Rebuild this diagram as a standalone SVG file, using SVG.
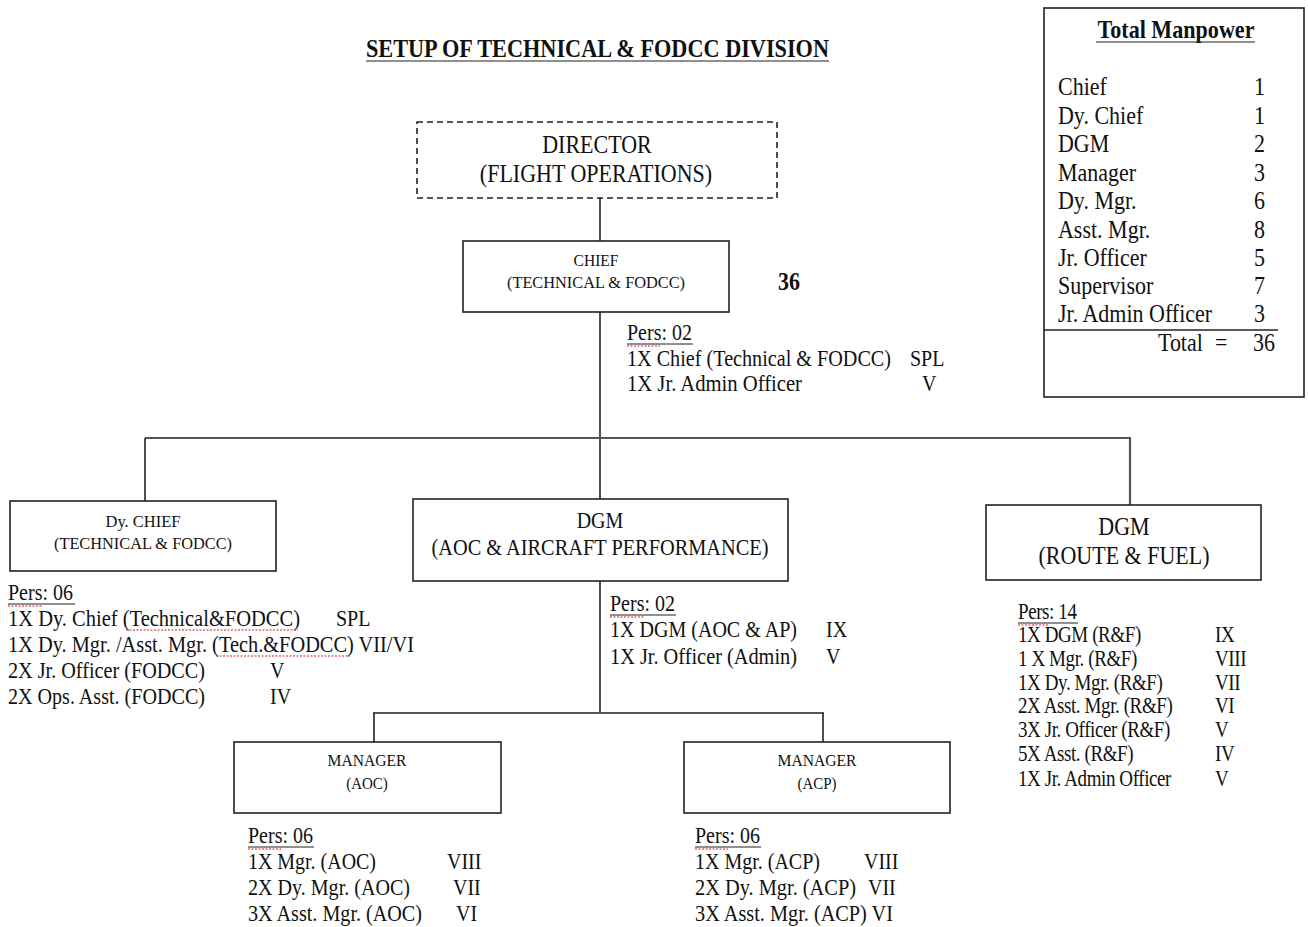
<svg xmlns="http://www.w3.org/2000/svg" width="1308" height="927" viewBox="0 0 1308 927">
<style>
text{font-family:"Liberation Serif","Times New Roman",serif;fill:#111;transform-box:fill-box;transform-origin:0 80%;transform:scaleY(1.18)}
.box{fill:#fff;stroke:#222;stroke-width:1.6}
.dash{fill:#fff;stroke:#222;stroke-width:1.6;stroke-dasharray:6 4}
.ln{stroke:#222;stroke-width:1.6;fill:none}
.gl{stroke:#555;stroke-width:2.2;fill:none}
.t{font-size:20px}
.r{font-size:19px;letter-spacing:-0.4px}
.s{font-size:15px}
.b{font-size:22px}
.c{text-anchor:middle}
.ul{stroke:#222;stroke-width:1.2}
.sq{stroke:#d02020;stroke-width:1.2;stroke-dasharray:2 1.5;fill:none}
</style>

<text x="366" y="57" font-size="22" font-weight="bold" textLength="463" lengthAdjust="spacingAndGlyphs">SETUP OF TECHNICAL &amp; FODCC DIVISION</text>
<line class="ul" x1="366" y1="61" x2="829" y2="61" stroke-width="1.6"/>

<g id="connectors">
<line class="ln" x1="600" y1="198" x2="600" y2="241"/>
<line class="ln" x1="600" y1="312" x2="600" y2="499"/>
<line class="gl" x1="145" y1="438" x2="1131" y2="438"/>
<line class="ln" x1="145" y1="438" x2="145" y2="501"/>
<line class="gl" x1="1130" y1="438" x2="1130" y2="505"/>
<line class="ln" x1="600" y1="581" x2="600" y2="713"/>
<line class="gl" x1="373" y1="713" x2="824" y2="713"/>
<line class="ln" x1="374" y1="713" x2="374" y2="742"/>
<line class="ln" x1="823" y1="713" x2="823" y2="742"/>
</g>

<g id="director">
<rect class="dash" x="417" y="122" width="360" height="76"/>
<text class="b c" x="597" y="153">DIRECTOR</text>
<text class="b c" x="596" y="182">(FLIGHT OPERATIONS)</text>
</g>

<g id="chief">
<rect class="box" x="463" y="241" width="266" height="71"/>
<text class="s c" x="596" y="266" textLength="45" lengthAdjust="spacingAndGlyphs">CHIEF</text>
<text class="s c" x="596" y="288" textLength="178" lengthAdjust="spacingAndGlyphs">(TECHNICAL  &amp; FODCC)</text>
<text x="778" y="290" font-size="22" font-weight="bold">36</text>
<text class="t" x="627" y="340">Pers: 02</text>
<line class="ul" x1="627" y1="344" x2="693" y2="344"/>
<line class="sq" x1="627" y1="346" x2="660" y2="346"/>
<text class="t" x="627" y="366" textLength="264" lengthAdjust="spacingAndGlyphs">1X Chief (Technical &amp; FODCC)</text>
<text class="t" x="910" y="366">SPL</text>
<text class="t" x="627" y="391" textLength="175" lengthAdjust="spacingAndGlyphs">1X Jr. Admin Officer</text>
<text class="t" x="922" y="391">V</text>
</g>

<g id="dychief">
<rect class="box" x="10" y="501" width="266" height="70"/>
<text class="s c" x="143" y="527" textLength="75" lengthAdjust="spacingAndGlyphs">Dy. CHIEF</text>
<text class="s c" x="143" y="549" textLength="178" lengthAdjust="spacingAndGlyphs">(TECHNICAL  &amp; FODCC)</text>
<text class="t" x="8" y="600">Pers: 06</text>
<line class="ul" x1="8" y1="604" x2="75" y2="604"/>
<line class="sq" x1="8" y1="606" x2="42" y2="606"/>
<text class="t" x="8" y="626" textLength="292" lengthAdjust="spacingAndGlyphs">1X Dy. Chief (Technical&amp;FODCC)</text>
<line class="sq" x1="126" y1="630" x2="298" y2="630"/>
<text class="t" x="336" y="626">SPL</text>
<text class="t" x="8" y="652" textLength="406" lengthAdjust="spacingAndGlyphs">1X Dy. Mgr. /Asst. Mgr. (Tech.&amp;FODCC) VII/VI</text>
<line class="sq" x1="216" y1="656" x2="350" y2="656"/>
<text class="t" x="8" y="678" textLength="197" lengthAdjust="spacingAndGlyphs">2X Jr. Officer (FODCC)</text>
<text class="t" x="270" y="678">V</text>
<text class="t" x="8" y="704" textLength="197" lengthAdjust="spacingAndGlyphs">2X Ops. Asst. (FODCC)</text>
<text class="t" x="270" y="704">IV</text>
</g>

<g id="dgm-aoc">
<rect class="box" x="413" y="499" width="375" height="82"/>
<text class="t c" x="600" y="528">DGM</text>
<text class="t c" x="600" y="555" textLength="337" lengthAdjust="spacingAndGlyphs">(AOC &amp; AIRCRAFT PERFORMANCE)</text>
<text class="t" x="610" y="611">Pers: 02</text>
<line class="ul" x1="610" y1="615" x2="676" y2="615"/>
<line class="sq" x1="610" y1="617" x2="644" y2="617"/>
<text class="t" x="610" y="637" textLength="187" lengthAdjust="spacingAndGlyphs">1X DGM (AOC &amp; AP)</text>
<text class="t" x="826" y="637">IX</text>
<text class="t" x="610" y="664" textLength="187" lengthAdjust="spacingAndGlyphs">1X Jr. Officer (Admin)</text>
<text class="t" x="826" y="664">V</text>
</g>

<g id="dgm-rf">
<rect class="box" x="986" y="505" width="275" height="75"/>
<text class="b c" x="1124" y="535">DGM</text>
<text class="b c" x="1124" y="564">(ROUTE &amp; FUEL)</text>
<text class="r" x="1018" y="619">Pers: 14</text>
<line class="ul" x1="1018" y1="623" x2="1078" y2="623"/>
<line class="sq" x1="1018" y1="625" x2="1048" y2="625"/>
<text class="r" x="1018" y="642">1X DGM (R&amp;F)</text><text class="r" x="1215" y="642">IX</text>
<text class="r" x="1018" y="666">1 X Mgr. (R&amp;F)</text><text class="r" x="1215" y="666">VIII</text>
<text class="r" x="1018" y="690">1X Dy. Mgr. (R&amp;F)</text><text class="r" x="1215" y="690">VII</text>
<text class="r" x="1018" y="713">2X Asst. Mgr. (R&amp;F)</text><text class="r" x="1215" y="713">VI</text>
<text class="r" x="1018" y="737">3X Jr. Officer (R&amp;F)</text><text class="r" x="1215" y="737">V</text>
<text class="r" x="1018" y="761">5X Asst. (R&amp;F)</text><text class="r" x="1215" y="761">IV</text>
<text class="r" x="1018" y="786">1X Jr. Admin Officer</text><text class="r" x="1215" y="786">V</text>
</g>

<g id="mgr-aoc">
<rect class="box" x="234" y="742" width="267" height="71"/>
<text class="s c" x="367" y="766" textLength="79" lengthAdjust="spacingAndGlyphs">MANAGER</text>
<text class="s c" x="367" y="789">(AOC)</text>
<text class="t" x="248" y="843">Pers: 06</text>
<line class="ul" x1="248" y1="847" x2="314" y2="847"/>
<line class="sq" x1="248" y1="849" x2="281" y2="849"/>
<text class="t" x="248" y="869" textLength="128" lengthAdjust="spacingAndGlyphs">1X Mgr. (AOC)</text>
<text class="t" x="447" y="869">VIII</text>
<text class="t" x="248" y="895" textLength="162" lengthAdjust="spacingAndGlyphs">2X Dy. Mgr. (AOC)</text>
<text class="t" x="453" y="895">VII</text>
<text class="t" x="248" y="921" textLength="174" lengthAdjust="spacingAndGlyphs">3X Asst. Mgr. (AOC)</text>
<text class="t" x="456" y="921">VI</text>
</g>

<g id="mgr-acp">
<rect class="box" x="684" y="742" width="266" height="71"/>
<text class="s c" x="817" y="766" textLength="79" lengthAdjust="spacingAndGlyphs">MANAGER</text>
<text class="s c" x="817" y="789">(ACP)</text>
<text class="t" x="695" y="843">Pers: 06</text>
<line class="ul" x1="695" y1="847" x2="761" y2="847"/>
<line class="sq" x1="695" y1="849" x2="728" y2="849"/>
<text class="t" x="695" y="869" textLength="125" lengthAdjust="spacingAndGlyphs">1X Mgr. (ACP)</text>
<text class="t" x="864" y="869">VIII</text>
<text class="t" x="695" y="895" textLength="161" lengthAdjust="spacingAndGlyphs">2X Dy. Mgr. (ACP)</text>
<text class="t" x="868" y="895">VII</text>
<text class="t" x="695" y="921" textLength="198" lengthAdjust="spacingAndGlyphs">3X Asst. Mgr. (ACP) VI</text>
</g>

<g id="total-manpower">
<rect class="box" x="1044" y="8" width="260" height="389"/>
<text x="1176" y="38" font-size="21" font-weight="bold" text-anchor="middle" textLength="157" lengthAdjust="spacingAndGlyphs">Total Manpower</text>
<line class="ul" x1="1096" y1="42" x2="1255" y2="42" stroke-width="1.4"/>
<g class="b">
<text x="1058" y="95">Chief</text><text x="1265" y="95" text-anchor="end">1</text>
<text x="1058" y="124">Dy. Chief</text><text x="1265" y="124" text-anchor="end">1</text>
<text x="1058" y="152">DGM</text><text x="1265" y="152" text-anchor="end">2</text>
<text x="1058" y="181">Manager</text><text x="1265" y="181" text-anchor="end">3</text>
<text x="1058" y="209">Dy. Mgr.</text><text x="1265" y="209" text-anchor="end">6</text>
<text x="1058" y="238">Asst. Mgr.</text><text x="1265" y="238" text-anchor="end">8</text>
<text x="1058" y="266">Jr. Officer</text><text x="1265" y="266" text-anchor="end">5</text>
<text x="1058" y="294">Supervisor</text><text x="1265" y="294" text-anchor="end">7</text>
<text x="1058" y="322">Jr. Admin Officer</text><text x="1265" y="322" text-anchor="end">3</text>
</g>
<line class="ln" x1="1044" y1="330" x2="1278" y2="330"/>
<text class="b" x="1158" y="351">Total</text>
<text class="b" x="1215" y="351">=</text>
<text class="b" x="1253" y="351">36</text>
</g>
</svg>
